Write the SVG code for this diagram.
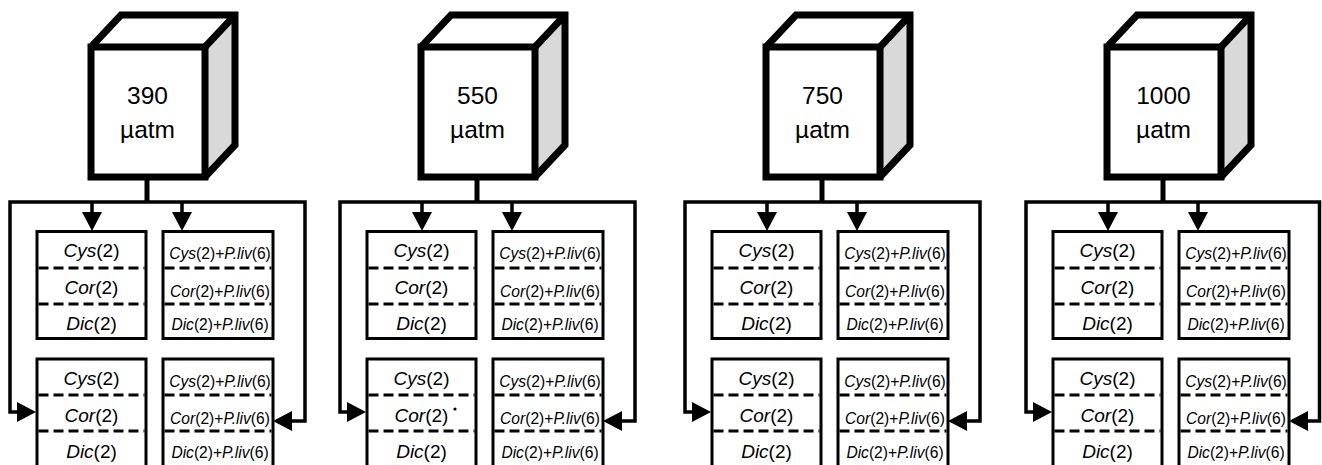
<svg xmlns="http://www.w3.org/2000/svg" width="1322" height="465" viewBox="0 0 1322 465">
<style>
.cube-front{fill:#fff;stroke:#000;stroke-width:7;stroke-linejoin:miter}
.cube-edge{fill:none;stroke:#000;stroke-width:7;stroke-linejoin:miter}
.cube-side{fill:#d9d9d9}
.cube-top{fill:#fff}
.box{fill:#fff;stroke:#000;stroke-width:3}
.dv{stroke:#000;stroke-width:2.8;stroke-dasharray:10 5}
.conn{fill:none;stroke:#000;stroke-width:3.5}
.stem{fill:none;stroke:#000;stroke-width:5}
.t{font-family:"Liberation Sans",Arial,sans-serif;fill:#000;text-anchor:middle}
.big{font-size:24.5px}
.mid{font-size:19px}
.sm{font-size:15.6px}
.i{font-style:italic}
</style>
<defs>
<marker id="ah" markerUnits="userSpaceOnUse" markerWidth="19" markerHeight="20" refX="9" refY="10" orient="auto" viewBox="0 0 19 20"><path d="M0,0 L19,10 L0,20 Z" fill="#000"/></marker>
</defs>
<rect width="1322" height="465" fill="#fff"/>

<!-- Panel 1 -->
<g id="panel-390" transform="translate(0,0)">
<g id="connectors-390">
<path class="stem" d="M147,179 V202"/>
<path class="conn" d="M147,202 H10 V412 H26" marker-end="url(#ah)"/>
<path class="conn" d="M147,202 H305 V421 H283" marker-end="url(#ah)"/>
<path class="conn" d="M92,202 V221" marker-end="url(#ah)"/>
<path class="conn" d="M182,202 V221" marker-end="url(#ah)"/>
</g>
<g id="cube-390">
<polygon class="cube-top" points="91,47 121,15 235,15 205,47"/>
<polygon class="cube-side" points="205,47 235,15 235,145 205,177"/>
<path class="cube-edge" d="M91,47 L121,15 H235 V145 L205,177 M205,47 L235,15"/>
<rect class="cube-front" x="91" y="47" width="114" height="130"/>
<text class="t big" x="147.5" y="104">390</text>
<text class="t big" x="147.5" y="138">µatm</text>
</g>
<g id="box-390-a">
<rect class="box" x="37" y="231.5" width="109" height="107"/>
<line class="dv" x1="38.5" y1="268" x2="144.5" y2="268"/>
<line class="dv" x1="38.5" y1="304" x2="144.5" y2="304"/>
<text class="t mid" x="91.5" y="257"><tspan class="i">Cys</tspan>(2)</text>
<text class="t mid" x="91.5" y="294"><tspan class="i">Cor</tspan>(2)</text>
<text class="t mid" x="91.5" y="330"><tspan class="i">Dic</tspan>(2)</text>
</g>
<g id="box-390-b">
<rect class="box" x="163" y="231.5" width="110" height="107"/>
<line class="dv" x1="164.5" y1="268" x2="271.5" y2="268"/>
<line class="dv" x1="164.5" y1="304" x2="271.5" y2="304"/>
<text class="t sm" x="220" y="259"><tspan class="i">Cys</tspan>(2)+<tspan class="i">P.liv</tspan>(6)</text>
<text class="t sm" x="220" y="297"><tspan class="i">Cor</tspan>(2)+<tspan class="i">P.liv</tspan>(6)</text>
<text class="t sm" x="220" y="330"><tspan class="i">Dic</tspan>(2)+<tspan class="i">P.liv</tspan>(6)</text>
</g>
<g id="box-390-c">
<rect class="box" x="37" y="359" width="109" height="108"/>
<line class="dv" x1="38.5" y1="395" x2="144.5" y2="395"/>
<line class="dv" x1="38.5" y1="431" x2="144.5" y2="431"/>
<text class="t mid" x="91.5" y="385"><tspan class="i">Cys</tspan>(2)</text>
<text class="t mid" x="91.5" y="422"><tspan class="i">Cor</tspan>(2)</text>
<text class="t mid" x="91.5" y="458"><tspan class="i">Dic</tspan>(2)</text>
</g>
<g id="box-390-d">
<rect class="box" x="163" y="359" width="110" height="108"/>
<line class="dv" x1="164.5" y1="395" x2="271.5" y2="395"/>
<line class="dv" x1="164.5" y1="431" x2="271.5" y2="431"/>
<text class="t sm" x="220" y="387"><tspan class="i">Cys</tspan>(2)+<tspan class="i">P.liv</tspan>(6)</text>
<text class="t sm" x="220" y="424"><tspan class="i">Cor</tspan>(2)+<tspan class="i">P.liv</tspan>(6)</text>
<text class="t sm" x="220" y="458"><tspan class="i">Dic</tspan>(2)+<tspan class="i">P.liv</tspan>(6)</text>
</g>
</g>

<!-- Panel 2 -->
<g id="panel-550" transform="translate(330,0)">
<g id="connectors-550">
<path class="stem" d="M147,179 V202"/>
<path class="conn" d="M147,202 H10 V412 H26" marker-end="url(#ah)"/>
<path class="conn" d="M147,202 H305 V421 H283" marker-end="url(#ah)"/>
<path class="conn" d="M92,202 V221" marker-end="url(#ah)"/>
<path class="conn" d="M182,202 V221" marker-end="url(#ah)"/>
</g>
<g id="cube-550">
<polygon class="cube-top" points="91,47 121,15 235,15 205,47"/>
<polygon class="cube-side" points="205,47 235,15 235,145 205,177"/>
<path class="cube-edge" d="M91,47 L121,15 H235 V145 L205,177 M205,47 L235,15"/>
<rect class="cube-front" x="91" y="47" width="114" height="130"/>
<text class="t big" x="147.5" y="104">550</text>
<text class="t big" x="147.5" y="138">µatm</text>
</g>
<g id="box-550-a">
<rect class="box" x="37" y="231.5" width="109" height="107"/>
<line class="dv" x1="38.5" y1="268" x2="144.5" y2="268"/>
<line class="dv" x1="38.5" y1="304" x2="144.5" y2="304"/>
<text class="t mid" x="91.5" y="257"><tspan class="i">Cys</tspan>(2)</text>
<text class="t mid" x="91.5" y="294"><tspan class="i">Cor</tspan>(2)</text>
<text class="t mid" x="91.5" y="330"><tspan class="i">Dic</tspan>(2)</text>
</g>
<g id="box-550-b">
<rect class="box" x="163" y="231.5" width="110" height="107"/>
<line class="dv" x1="164.5" y1="268" x2="271.5" y2="268"/>
<line class="dv" x1="164.5" y1="304" x2="271.5" y2="304"/>
<text class="t sm" x="220" y="259"><tspan class="i">Cys</tspan>(2)+<tspan class="i">P.liv</tspan>(6)</text>
<text class="t sm" x="220" y="297"><tspan class="i">Cor</tspan>(2)+<tspan class="i">P.liv</tspan>(6)</text>
<text class="t sm" x="220" y="330"><tspan class="i">Dic</tspan>(2)+<tspan class="i">P.liv</tspan>(6)</text>
</g>
<g id="box-550-c">
<rect class="box" x="37" y="359" width="109" height="108"/>
<line class="dv" x1="38.5" y1="395" x2="144.5" y2="395"/>
<line class="dv" x1="38.5" y1="431" x2="144.5" y2="431"/>
<text class="t mid" x="91.5" y="385"><tspan class="i">Cys</tspan>(2)</text>
<text class="t mid" x="91.5" y="422"><tspan class="i">Cor</tspan>(2)</text>
<text class="t mid" x="91.5" y="458"><tspan class="i">Dic</tspan>(2)</text>
<circle cx="125" cy="409" r="1.6" fill="#000"/>
</g>
<g id="box-550-d">
<rect class="box" x="163" y="359" width="110" height="108"/>
<line class="dv" x1="164.5" y1="395" x2="271.5" y2="395"/>
<line class="dv" x1="164.5" y1="431" x2="271.5" y2="431"/>
<text class="t sm" x="220" y="387"><tspan class="i">Cys</tspan>(2)+<tspan class="i">P.liv</tspan>(6)</text>
<text class="t sm" x="220" y="424"><tspan class="i">Cor</tspan>(2)+<tspan class="i">P.liv</tspan>(6)</text>
<text class="t sm" x="220" y="458"><tspan class="i">Dic</tspan>(2)+<tspan class="i">P.liv</tspan>(6)</text>
</g>
</g>

<!-- Panel 3 -->
<g id="panel-750" transform="translate(675,0)">
<g id="connectors-750">
<path class="stem" d="M147,179 V202"/>
<path class="conn" d="M147,202 H10 V412 H26" marker-end="url(#ah)"/>
<path class="conn" d="M147,202 H305 V421 H283" marker-end="url(#ah)"/>
<path class="conn" d="M92,202 V221" marker-end="url(#ah)"/>
<path class="conn" d="M182,202 V221" marker-end="url(#ah)"/>
</g>
<g id="cube-750">
<polygon class="cube-top" points="91,47 121,15 235,15 205,47"/>
<polygon class="cube-side" points="205,47 235,15 235,145 205,177"/>
<path class="cube-edge" d="M91,47 L121,15 H235 V145 L205,177 M205,47 L235,15"/>
<rect class="cube-front" x="91" y="47" width="114" height="130"/>
<text class="t big" x="147.5" y="104">750</text>
<text class="t big" x="147.5" y="138">µatm</text>
</g>
<g id="box-750-a">
<rect class="box" x="37" y="231.5" width="109" height="107"/>
<line class="dv" x1="38.5" y1="268" x2="144.5" y2="268"/>
<line class="dv" x1="38.5" y1="304" x2="144.5" y2="304"/>
<text class="t mid" x="91.5" y="257"><tspan class="i">Cys</tspan>(2)</text>
<text class="t mid" x="91.5" y="294"><tspan class="i">Cor</tspan>(2)</text>
<text class="t mid" x="91.5" y="330"><tspan class="i">Dic</tspan>(2)</text>
</g>
<g id="box-750-b">
<rect class="box" x="163" y="231.5" width="110" height="107"/>
<line class="dv" x1="164.5" y1="268" x2="271.5" y2="268"/>
<line class="dv" x1="164.5" y1="304" x2="271.5" y2="304"/>
<text class="t sm" x="220" y="259"><tspan class="i">Cys</tspan>(2)+<tspan class="i">P.liv</tspan>(6)</text>
<text class="t sm" x="220" y="297"><tspan class="i">Cor</tspan>(2)+<tspan class="i">P.liv</tspan>(6)</text>
<text class="t sm" x="220" y="330"><tspan class="i">Dic</tspan>(2)+<tspan class="i">P.liv</tspan>(6)</text>
</g>
<g id="box-750-c">
<rect class="box" x="37" y="359" width="109" height="108"/>
<line class="dv" x1="38.5" y1="395" x2="144.5" y2="395"/>
<line class="dv" x1="38.5" y1="431" x2="144.5" y2="431"/>
<text class="t mid" x="91.5" y="385"><tspan class="i">Cys</tspan>(2)</text>
<text class="t mid" x="91.5" y="422"><tspan class="i">Cor</tspan>(2)</text>
<text class="t mid" x="91.5" y="458"><tspan class="i">Dic</tspan>(2)</text>
</g>
<g id="box-750-d">
<rect class="box" x="163" y="359" width="110" height="108"/>
<line class="dv" x1="164.5" y1="395" x2="271.5" y2="395"/>
<line class="dv" x1="164.5" y1="431" x2="271.5" y2="431"/>
<text class="t sm" x="220" y="387"><tspan class="i">Cys</tspan>(2)+<tspan class="i">P.liv</tspan>(6)</text>
<text class="t sm" x="220" y="424"><tspan class="i">Cor</tspan>(2)+<tspan class="i">P.liv</tspan>(6)</text>
<text class="t sm" x="220" y="458"><tspan class="i">Dic</tspan>(2)+<tspan class="i">P.liv</tspan>(6)</text>
</g>
</g>

<!-- Panel 4 -->
<g id="panel-1000" transform="translate(1016,0)">
<g id="connectors-1000">
<path class="stem" d="M147,179 V202"/>
<path class="conn" d="M147,202 H10 V412 H26" marker-end="url(#ah)"/>
<path class="conn" d="M147,202 H303.5 V421 H283" marker-end="url(#ah)"/>
<path class="conn" d="M92,202 V221" marker-end="url(#ah)"/>
<path class="conn" d="M182,202 V221" marker-end="url(#ah)"/>
</g>
<g id="cube-1000">
<polygon class="cube-top" points="91,47 121,15 235,15 205,47"/>
<polygon class="cube-side" points="205,47 235,15 235,145 205,177"/>
<path class="cube-edge" d="M91,47 L121,15 H235 V145 L205,177 M205,47 L235,15"/>
<rect class="cube-front" x="91" y="47" width="114" height="130"/>
<text class="t big" x="147.5" y="104">1000</text>
<text class="t big" x="147.5" y="138">µatm</text>
</g>
<g id="box-1000-a">
<rect class="box" x="37" y="231.5" width="109" height="107"/>
<line class="dv" x1="38.5" y1="268" x2="144.5" y2="268"/>
<line class="dv" x1="38.5" y1="304" x2="144.5" y2="304"/>
<text class="t mid" x="91.5" y="257"><tspan class="i">Cys</tspan>(2)</text>
<text class="t mid" x="91.5" y="294"><tspan class="i">Cor</tspan>(2)</text>
<text class="t mid" x="91.5" y="330"><tspan class="i">Dic</tspan>(2)</text>
</g>
<g id="box-1000-b">
<rect class="box" x="163" y="231.5" width="110" height="107"/>
<line class="dv" x1="164.5" y1="268" x2="271.5" y2="268"/>
<line class="dv" x1="164.5" y1="304" x2="271.5" y2="304"/>
<text class="t sm" x="220" y="259"><tspan class="i">Cys</tspan>(2)+<tspan class="i">P.liv</tspan>(6)</text>
<text class="t sm" x="220" y="297"><tspan class="i">Cor</tspan>(2)+<tspan class="i">P.liv</tspan>(6)</text>
<text class="t sm" x="220" y="330"><tspan class="i">Dic</tspan>(2)+<tspan class="i">P.liv</tspan>(6)</text>
</g>
<g id="box-1000-c">
<rect class="box" x="37" y="359" width="109" height="108"/>
<line class="dv" x1="38.5" y1="395" x2="144.5" y2="395"/>
<line class="dv" x1="38.5" y1="431" x2="144.5" y2="431"/>
<text class="t mid" x="91.5" y="385"><tspan class="i">Cys</tspan>(2)</text>
<text class="t mid" x="91.5" y="422"><tspan class="i">Cor</tspan>(2)</text>
<text class="t mid" x="91.5" y="458"><tspan class="i">Dic</tspan>(2)</text>
</g>
<g id="box-1000-d">
<rect class="box" x="163" y="359" width="110" height="108"/>
<line class="dv" x1="164.5" y1="395" x2="271.5" y2="395"/>
<line class="dv" x1="164.5" y1="431" x2="271.5" y2="431"/>
<text class="t sm" x="220" y="387"><tspan class="i">Cys</tspan>(2)+<tspan class="i">P.liv</tspan>(6)</text>
<text class="t sm" x="220" y="424"><tspan class="i">Cor</tspan>(2)+<tspan class="i">P.liv</tspan>(6)</text>
<text class="t sm" x="220" y="458"><tspan class="i">Dic</tspan>(2)+<tspan class="i">P.liv</tspan>(6)</text>
</g>
</g>
</svg>
